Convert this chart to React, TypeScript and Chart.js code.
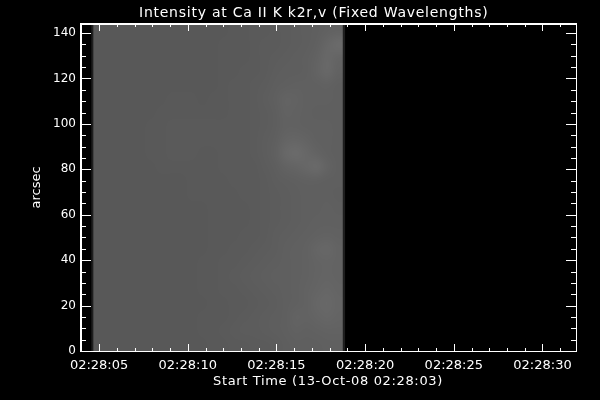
import React, { useEffect, useRef } from "react";
import { Chart, registerables } from "chart.js";

Chart.register(...registerables);

const titleText = "Intensity at Ca II K k2r,v (Fixed Wavelengths)";
const xTitleText = "Start Time (13-Oct-08 02:28:03)";
const yTitleText = "arcsec";
const xMajorTicks = [5, 10, 15, 20, 25, 30];
const xTickLabels = ["02:28:05", "02:28:10", "02:28:15", "02:28:20", "02:28:25", "02:28:30"];
const xMinorTicks = [4, 6, 7, 8, 9, 11, 12, 13, 14, 16, 17, 18, 19, 21, 22, 23, 24, 26, 27, 28, 29, 31];
const yMajorTicks = [0, 20, 40, 60, 80, 100, 120, 140];
const yMinorTicks = [5, 10, 15, 25, 30, 35, 45, 50, 55, 65, 70, 75, 85, 90, 95, 105, 110, 115, 125, 130, 135];
const xRange = [3.98, 31.89];
const yRange = [0, 144];
const imageTimeRange = [4.676, 18.74];
const leftEdgeRange = [4.563, 4.676];
const rightEdgeRange = [18.74, 18.87];
const edgeGray = 30;

// gray level per cell; first row is the top of the picture, first column the earliest time
const intensityRows = [
  [88, 88, 88, 88, 88, 88, 88, 88, 88, 88, 88, 88, 88, 89, 89, 90, 90, 91, 92, 93, 94, 95, 97, 98],
  [88, 88, 88, 88, 88, 88, 88, 88, 88, 88, 88, 88, 89, 89, 89, 90, 91, 91, 92, 93, 94, 96, 102, 107],
  [88, 88, 88, 88, 88, 88, 88, 88, 88, 88, 88, 88, 89, 89, 89, 90, 91, 92, 93, 94, 95, 98, 104, 100],
  [88, 88, 88, 88, 88, 88, 88, 88, 88, 88, 88, 88, 89, 89, 90, 90, 91, 93, 94, 94, 95, 99, 104, 98],
  [88, 88, 88, 88, 88, 88, 88, 88, 88, 88, 88, 88, 89, 90, 90, 91, 92, 94, 95, 96, 96, 96, 97, 95],
  [88, 88, 88, 88, 88, 88, 88, 89, 89, 89, 88, 89, 89, 90, 90, 91, 93, 95, 99, 98, 96, 96, 96, 95],
  [88, 88, 88, 88, 88, 88, 89, 89, 89, 89, 89, 89, 89, 90, 90, 91, 92, 94, 98, 97, 96, 95, 95, 95],
  [88, 88, 88, 88, 88, 89, 89, 90, 90, 90, 90, 90, 90, 90, 90, 91, 92, 94, 97, 97, 96, 96, 96, 95],
  [88, 88, 88, 88, 88, 89, 89, 90, 90, 90, 90, 90, 90, 90, 90, 91, 93, 95, 100, 101, 99, 96, 96, 95],
  [88, 88, 88, 88, 88, 89, 89, 90, 90, 90, 89, 89, 90, 90, 90, 91, 93, 96, 104, 107, 103, 99, 96, 95],
  [88, 88, 88, 88, 88, 88, 89, 89, 89, 89, 89, 89, 90, 90, 90, 90, 92, 94, 98, 100, 103, 106, 99, 95],
  [88, 88, 88, 88, 88, 88, 88, 88, 88, 89, 89, 89, 89, 90, 90, 90, 91, 93, 94, 95, 96, 96, 95, 95],
  [88, 88, 88, 88, 88, 88, 88, 88, 88, 89, 89, 89, 89, 89, 90, 90, 91, 92, 93, 94, 95, 95, 95, 94],
  [88, 88, 88, 88, 88, 88, 88, 88, 88, 88, 88, 89, 89, 89, 89, 90, 91, 92, 93, 94, 95, 95, 96, 95],
  [88, 88, 88, 88, 88, 88, 88, 88, 88, 88, 88, 89, 89, 89, 89, 90, 91, 92, 93, 94, 95, 96, 96, 96],
  [88, 88, 88, 88, 88, 88, 88, 88, 88, 88, 88, 89, 89, 89, 90, 90, 91, 93, 94, 95, 96, 97, 98, 97],
  [88, 88, 88, 88, 88, 88, 88, 88, 88, 88, 88, 89, 89, 90, 90, 91, 92, 93, 95, 96, 97, 101, 103, 99],
  [88, 88, 88, 88, 88, 88, 88, 88, 88, 88, 89, 89, 90, 90, 91, 92, 93, 94, 95, 96, 97, 99, 100, 99],
  [88, 88, 88, 88, 88, 88, 88, 88, 88, 88, 89, 89, 90, 91, 92, 93, 94, 95, 95, 96, 97, 99, 100, 99],
  [88, 88, 88, 88, 88, 88, 88, 88, 88, 88, 89, 89, 90, 90, 91, 92, 93, 94, 95, 96, 98, 100, 102, 100],
  [88, 88, 88, 88, 88, 88, 88, 88, 88, 88, 88, 89, 89, 90, 90, 91, 92, 93, 95, 96, 98, 102, 104, 101],
  [88, 88, 88, 88, 88, 88, 88, 88, 88, 88, 89, 89, 89, 90, 91, 92, 93, 94, 95, 99, 98, 100, 102, 100],
  [88, 88, 88, 88, 88, 88, 88, 88, 88, 88, 89, 89, 90, 91, 92, 92, 93, 94, 95, 97, 96, 97, 98, 98],
  [88, 88, 88, 88, 88, 88, 88, 88, 88, 88, 88, 89, 89, 90, 90, 91, 91, 92, 94, 95, 95, 95, 96, 96],
];

const toCells = () => {
  const rows = intensityRows.length;
  const cols = intensityRows[0].length;
  const cells: { x: number; y: number; v: number; r: number; c: number }[] = [];
  intensityRows.forEach((row, r) =>
    row.forEach((v, c) =>
      cells.push({
        x: imageTimeRange[0] + ((c + 0.5) / cols) * (imageTimeRange[1] - imageTimeRange[0]),
        y: yRange[1] - ((r + 0.5) / rows) * (yRange[1] - yRange[0]),
        v,
        r,
        c,
      })
    )
  );
  return cells;
};

const framePlugin = {
  id: "idlFrame",
  beforeDatasetsDraw(chart: any) {
    const { ctx, scales } = chart;
    const { x, y } = scales;
    const cells = chart.data.datasets[0].data;
    const rows = intensityRows.length;
    const cols = intensityRows[0].length;
    const off = document.createElement("canvas");
    off.width = cols;
    off.height = rows;
    const octx = off.getContext("2d") as CanvasRenderingContext2D;
    const img = octx.createImageData(cols, rows);
    cells.forEach((cell: any) => {
      const i = (cell.r * cols + cell.c) * 4;
      img.data[i] = cell.v;
      img.data[i + 1] = cell.v;
      img.data[i + 2] = cell.v;
      img.data[i + 3] = 255;
    });
    octx.putImageData(img, 0, 0);
    const x0 = x.getPixelForValue(imageTimeRange[0]);
    const x1 = x.getPixelForValue(imageTimeRange[1]);
    const yTop = y.getPixelForValue(yRange[1]);
    const yBot = y.getPixelForValue(yRange[0]);
    ctx.save();
    ctx.imageSmoothingEnabled = true;
    ctx.imageSmoothingQuality = "high";
    ctx.drawImage(off, x0, yTop, x1 - x0, yBot - yTop);
    ctx.fillStyle = `rgb(${edgeGray},${edgeGray},${edgeGray})`;
    [leftEdgeRange, rightEdgeRange].forEach(([a, b]) => {
      const pa = x.getPixelForValue(a);
      const pb = x.getPixelForValue(b);
      ctx.fillRect(pa, yTop, pb - pa, yBot - yTop);
    });
    ctx.restore();
  },
  afterDraw(chart: any) {
    const { ctx, scales, chartArea } = chart;
    const { x, y } = scales;
    const { left, right, top, bottom } = chartArea;
    ctx.save();
    ctx.fillStyle = "#ffffff";
    ctx.fillRect(left - 1, top - 1, 2, bottom - top + 2);
    ctx.fillRect(right, top - 1, 1, bottom - top + 2);
    ctx.fillRect(left - 1, top - 1, right - left + 2, 2);
    ctx.fillRect(left - 1, bottom, right - left + 2, 1);
    const xTick = (v: number, len: number) => {
      const p = Math.round(x.getPixelForValue(v));
      ctx.fillRect(p, top, 1, len);
      ctx.fillRect(p, bottom - len, 1, len);
    };
    const yTick = (v: number, len: number) => {
      const p = Math.round(y.getPixelForValue(v));
      ctx.fillRect(left, p, len, 1);
      ctx.fillRect(right - len, p, len, 1);
    };
    xMajorTicks.forEach((v) => xTick(v, 7));
    xMinorTicks.forEach((v) => xTick(v, 3));
    yMajorTicks.forEach((v) => yTick(v, 10));
    yMinorTicks.forEach((v) => yTick(v, 5));

    ctx.textBaseline = "alphabetic";
    ctx.textAlign = "left";
    ctx.font = '14px "DejaVu Sans"';
    (ctx as any).letterSpacing = "0.75px";
    ctx.fillText(titleText, 139, 17);
    ctx.font = '13px "DejaVu Sans"';
    (ctx as any).letterSpacing = "0.65px";
    ctx.fillText(xTitleText, 213, 385);
    ctx.translate(40, 187.5);
    ctx.rotate(-Math.PI / 2);
    (ctx as any).letterSpacing = "0px";
    ctx.textAlign = "center";
    ctx.fillText(yTitleText, 0, 0);
    ctx.restore();
  },
};

export default function App() {
  const ref = useRef<HTMLCanvasElement>(null);
  useEffect(() => {
    document.documentElement.style.background = "#000";
    document.body.style.margin = "0";
    document.body.style.background = "#000";
    const chart = new Chart(ref.current as HTMLCanvasElement, {
      type: "scatter",
      data: {
        datasets: [{ label: "Intensity", data: toCells() as any, pointRadius: 0, showLine: false }],
      },
      plugins: [framePlugin],
      options: {
        animation: false,
        responsive: false,
        events: [],
        layout: { padding: { left: 0, right: 24, top: 24, bottom: 0 } },
        plugins: {
          legend: { display: false },
          tooltip: { enabled: false },
          title: { display: false },
        },
        scales: {
          x: {
            type: "linear",
            min: xRange[0],
            max: xRange[1],
            afterFit: (s: any) => {
              s.height = 49;
            },
            afterBuildTicks: (s: any) => {
              s.ticks = xMajorTicks.map((value) => ({ value }));
            },
            grid: { display: false, drawTicks: false },
            border: { display: false },
            ticks: {
              color: "#ffffff",
              autoSkip: false,
              maxRotation: 0,
              padding: 7,
              font: { family: "DejaVu Sans", size: 13 },
              callback: (v: any) => xTickLabels[xMajorTicks.indexOf(v)],
            },
          },
          y: {
            type: "linear",
            min: yRange[0],
            max: yRange[1],
            afterFit: (s: any) => {
              s.width = 81;
            },
            afterBuildTicks: (s: any) => {
              s.ticks = yMajorTicks.map((value) => ({ value }));
            },
            grid: { display: false, drawTicks: false },
            border: { display: false },
            ticks: {
              color: "#ffffff",
              autoSkip: false,
              padding: 5,
              font: { family: "DejaVu Sans", size: 12 },
              callback: (v: any) => String(v),
            },
          },
        },
      },
    });
    return () => chart.destroy();
  }, []);
  return (
    <div style={{ position: "fixed", left: 0, top: 0, width: 600, height: 400, background: "#000" }}>
      <canvas ref={ref} width={600} height={400} style={{ display: "block" }} />
    </div>
  );
}
